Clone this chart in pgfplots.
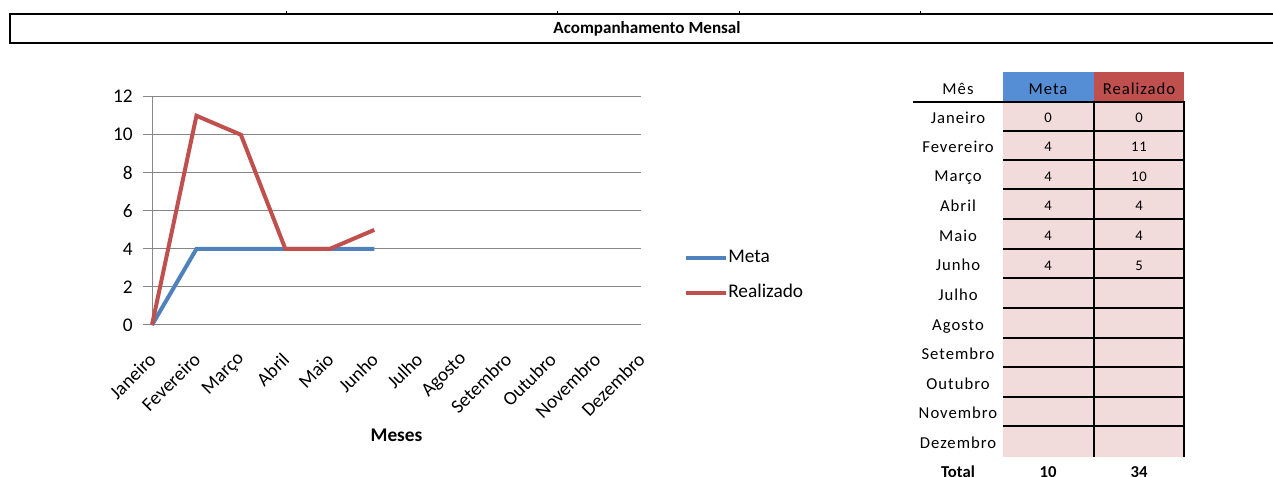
\documentclass[border=0pt]{standalone}
\usepackage{pgfplots}
\pgfplotsset{compat=1.18}
\usepackage{fontspec}
\setmainfont{Carlito}
\newfontfamily\tabfont[LetterSpace=6]{Carlito}
\definecolor{mblue}{HTML}{4F81BD}
\definecolor{mred}{HTML}{C0504D}
\definecolor{hblue}{HTML}{558ED5}
\definecolor{cpink}{HTML}{F2DCDB}
\definecolor{gridgray}{HTML}{868686}
\begin{document}
\begin{tikzpicture}[x=0.75pt,y=0.75pt]
\useasboundingbox (0,0) rectangle (1273,477);
\begin{axis}[
  at={(114pt,114pt)}, anchor=south west,
  scale only axis, width=366.75pt, height=171.2pt,
  xmin=0, xmax=11, ymin=0, ymax=12,
  ytick={0,2,...,12},
  xtick={0,...,11},
  xticklabels={Janeiro,Fevereiro,Março,Abril,Maio,Junho,Julho,Agosto,Setembro,Outubro,Novembro,Dezembro},
  axis x line*=bottom, axis y line*=left,
  axis line style={draw=gridgray, line width=0.75pt, -},
  ymajorgrids, grid style={draw=gridgray, line width=0.75pt},
  tick align=outside, major tick length=6.75pt,
  ytick style={draw=gridgray, line width=0.75pt},
  xtick style={draw=none},
  /pgf/number format/assume math mode=true,
  yticklabel style={font=\fontsize{14.5}{17}\selectfont, anchor=east, inner sep=0pt, xshift=-7.5pt},
  xticklabel style={font=\fontsize{14.5}{17}\selectfont, yshift=-16.5pt, xshift=0.5pt, rotate=45, anchor=east, inner sep=0pt},
  xlabel={\textbf{Meses}},
  xlabel style={at={(axis description cs:0.5,0)}, anchor=center, yshift=-82.5pt, font=\fontsize{14.5}{17}\selectfont},
  legend style={at={(1.088,0.217)}, anchor=west, draw=none, fill=none, inner sep=0pt,
    font=\fontsize{14.5}{17}\selectfont, row sep=13pt,
    nodes={inner sep=0pt, text height=10pt, text depth=3pt}},
  legend cell align=left,
  legend image code/.code={\draw[#1, line width=3pt] (0pt,0pt) -- (30pt,0pt);},
  clip=false,
]
\addplot[mblue, line width=3pt] coordinates {(0,0) (1,4) (2,4) (3,4) (4,4) (5,4)};
\addlegendentry{Meta}
\addplot[mred, line width=3pt] coordinates {(0,0) (1,11) (2,10) (3,4) (4,4) (5,5)};
\addlegendentry{Realizado}
\end{axis}
\begin{scope}[shift={(0,477)}, yscale=-1]
  % title box
  \draw[line width=1.5pt] (10,14) rectangle (1290,43);
  \foreach \xx in {286,557,739,920} \draw[line width=0.75pt] (\xx,11) -- (\xx,14);
  \node[font=\bfseries\fontsize{12.8}{15}\selectfont] at (647,28.5) {Acompanhamento Mensal};
  % table
  \fill[hblue] (1003,72) rectangle (1093.5,102);
  \fill[mred] (1093.5,72) rectangle (1184,102);
  \fill[cpink] (1003,102) rectangle (1184,456.7);
  \draw[line width=1.5pt] (913,102) -- (1185,102);
  \foreach \yy in {130.7,160,189.3,219.3,249.3,278.3,308.3,337.7,367.3,396.7,426}
    \draw[line width=1.5pt] (1003,\yy) -- (1185,\yy);
  \draw[line width=1.5pt] (1093.5,102) -- (1093.5,456.7);
  \draw[line width=1.5pt] (1184,102) -- (1184,456.7);
  \begin{scope}[every node/.style={font=\tabfont\fontsize{12.5}{15}\selectfont, inner sep=0pt, anchor=base}]
  \node at (958,94.3) {Mês};
  \node at (1048,94.3) {Meta};
  \node at (1139,94.3) {Realizado};
  \foreach \m/\yy in {Janeiro/123.3,Fevereiro/152.5,Março/181.8,Abril/211.4,Maio/241.4,Junho/270.9,Julho/300.4,Agosto/330.1,Setembro/359.6,Outubro/389.1,Novembro/418.5,Dezembro/448.5}
    \node at (958,\yy) {\m};
  \end{scope}
  \begin{scope}[every node/.style={font=\tabfont\fontsize{11}{13}\selectfont, inner sep=0pt, anchor=base}]
  \foreach \a/\b/\yy in {0/0/122.7,4/11/151.9,4/10/181.2,4/4/210.8,4/4/240.8,4/5/270.3}{
    \node at (1048,\yy) {\a};
    \node at (1139,\yy) {\b};}
  \end{scope}
  \begin{scope}[every node/.style={font=\bfseries\fontsize{12.5}{15}\selectfont, inner sep=0pt, anchor=base}]
  \node at (958,478) {Total};
  \node at (1048,478) {10};
  \node at (1139,478) {34};
  \end{scope}
\end{scope}
\end{tikzpicture}
\end{document}
